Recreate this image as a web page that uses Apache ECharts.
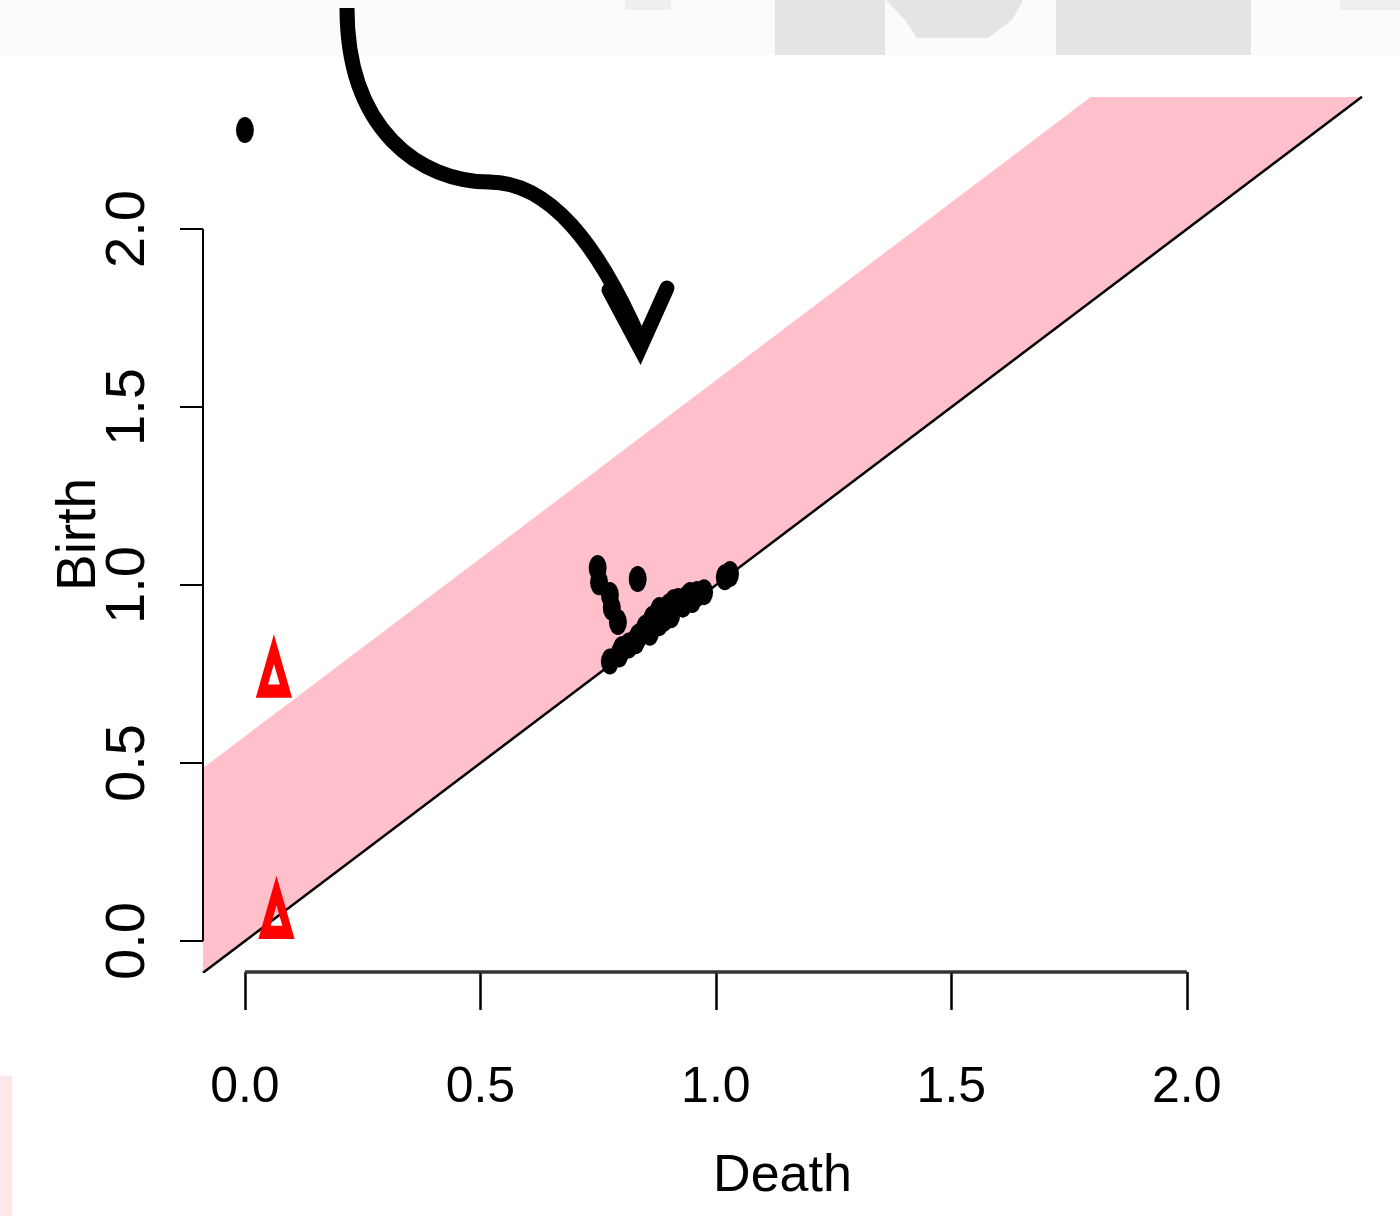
<!DOCTYPE html>
<html><head><meta charset="utf-8">
<script src="https://cdn.jsdelivr.net/npm/echarts@6/dist/echarts.min.js"></script>
<style>html,body{margin:0;padding:0;background:#fff}#c{width:1400px;height:1216px}</style>
</head><body><div id="c"></div>
<script>
// ---- data ----
const tickValues = [0, 0.5, 1, 1.5, 2];
const tickLabels = ['0.0', '0.5', '1.0', '1.5', '2.0'];
const xMin = -0.089, xMax = 2.372;   // Death axis range
const yMin = -0.087, yMax = 2.371;   // Birth axis range
const bandWidth = 0.575;             // confidence band above the diagonal
// dimension 0 (black dots): [death, birth]
const dim0Points = [
  [0.0, 2.278],
  [0.749, 1.048], [0.752, 1.008], [0.775, 0.972], [0.779, 0.936], [0.792, 0.896],
  [0.834, 1.017], [1.019, 1.022], [1.030, 1.031],
  [0.775, 0.785], [0.795, 0.805], [0.800, 0.820], [0.815, 0.830], [0.830, 0.842],
  [0.835, 0.855], [0.850, 0.880], [0.860, 0.866], [0.865, 0.905], [0.880, 0.893],
  [0.880, 0.930], [0.890, 0.905], [0.900, 0.940], [0.905, 0.915], [0.910, 0.952],
  [0.920, 0.955], [0.930, 0.945], [0.940, 0.965], [0.945, 0.972], [0.950, 0.958],
  [0.960, 0.975], [0.975, 0.980]
];
// dimension 1 (red triangles): [death, birth]
const dim1Points = [[0.0616, 0.761], [0.067, 0.083]];

const labelFor = v => { const i = tickValues.indexOf(v); return i >= 0 ? tickLabels[i] : v.toFixed(1); };
const narrow = "'Liberation Sans Narrow','Liberation Sans',Arial,sans-serif";
const sans = "'Liberation Sans',Arial,Helvetica,sans-serif";

const chart = echarts.init(document.getElementById('c'), null, {renderer: 'canvas'});
chart.setOption({
  animation: false,
  backgroundColor: '#fff',
  grid: {left: 203, right: 38, top: 97, bottom: 244, containLabel: false},
  xAxis: {
    type: 'value', min: xMin, max: xMax,
    splitLine: {show: false},
    axisLine: {show: false, onZero: false},
    axisTick: {show: true, inside: false, length: 38, customValues: tickValues,
      lineStyle: {color: '#000', width: 2.5}},
    axisLabel: {customValues: tickValues, formatter: labelFor, margin: 91,
      fontSize: 50, fontFamily: narrow, color: '#000'},
    name: 'Death', nameLocation: 'middle', nameGap: 179, nameMoveOverlap: false,
    nameTextStyle: {fontSize: 52, fontFamily: narrow, color: '#000'}
  },
  yAxis: {
    type: 'value', min: yMin, max: yMax,
    splitLine: {show: false},
    axisLine: {show: false, onZero: false},
    axisTick: {show: true, inside: false, length: 23, customValues: tickValues,
      lineStyle: {color: '#000', width: 2}},
    axisLabel: {customValues: tickValues, formatter: labelFor, rotate: 90, margin: 46,
      fontSize: 56, fontFamily: sans, color: '#000'},
    name: 'Birth', nameLocation: 'middle', nameGap: 96, nameRotate: 90, nameMoveOverlap: false,
    nameTextStyle: {fontSize: 55, fontFamily: sans, color: '#000'}
  },
  series: [
    { // pink band
      type: 'custom', silent: true, clip: true, z: 1,
      data: [0],
      renderItem: (params, api) => {
        const poly = [
          [xMin, xMin], [xMax, xMax], [yMax - bandWidth, yMax], [xMin, xMin + bandWidth]
        ].map(p => api.coord(p));
        return {type: 'polygon', shape: {points: poly}, style: {fill: '#FFC0CB'}};
      }
    },
    { // diagonal
      type: 'line', silent: true, z: 2, symbol: 'none', clip: true,
      data: [[xMin, xMin], [xMax, xMax]],
      lineStyle: {color: '#000', width: 2.5}
    },
    { // x axis line (spans tick range)
      type: 'line', silent: true, z: 2, symbol: 'none', clip: false,
      data: [[tickValues[0], yMin], [tickValues[tickValues.length - 1], yMin]],
      lineStyle: {color: '#333', width: 3.5}
    },
    { // y axis line
      type: 'line', silent: true, z: 2, symbol: 'none', clip: false,
      data: [[xMin, tickValues[0]], [xMin, tickValues[tickValues.length - 1]]],
      lineStyle: {color: '#000', width: 2}
    },
    {
      name: 'dim 0', type: 'scatter', z: 5, clip: false,
      symbol: 'circle', symbolSize: [18, 26],
      itemStyle: {color: '#000', opacity: 1},
      data: dim0Points
    },
    {
      name: 'dim 1', type: 'scatter', z: 6, clip: false,
      symbol: 'triangle', symbolSize: [24, 42],
      itemStyle: {color: 'rgba(0,0,0,0)', borderColor: '#ff0000', borderWidth: 10, opacity: 1},
      data: dim1Points
    }
  ],
  graphic: [
    {type: 'rect', z: -10, shape: {x: 0, y: 0, width: 1400, height: 55}, style: {fill: '#fbfbfb'}},
    {type: 'rect', z: -9, shape: {x: 775, y: 0, width: 110, height: 55}, style: {fill: '#e4e4e4'}},
    {type: 'polygon', z: -9, shape: {points: [[886, 0], [1023, 0], [1012, 20], [988, 38], [917, 38], [905, 20]]}, style: {fill: '#e4e4e4'}},
    {type: 'rect', z: -9, shape: {x: 1056, y: 0, width: 195, height: 55}, style: {fill: '#e4e4e4'}},
    {type: 'rect', z: -9, shape: {x: 625, y: 0, width: 46, height: 10}, style: {fill: '#efefef'}},
    {type: 'rect', z: -9, shape: {x: 1340, y: 0, width: 60, height: 10}, style: {fill: '#efefef'}},
    {type: 'rect', z: -9, shape: {x: 0, y: 1076, width: 12, height: 140},
      style: {fill: '#fde5e7', opacity: 0.9}},
    {type: 'bezierCurve', z: 100,
      shape: {x1: 347, y1: 8, cpx1: 347, cpy1: 130, cpx2: 420, cpy2: 182, x2: 490, y2: 182},
      style: {stroke: '#000', lineWidth: 15, fill: null, lineCap: 'butt'}},
    {type: 'bezierCurve', z: 100,
      shape: {x1: 489, y1: 182, cpx1: 550, cpy1: 182, cpx2: 598, cpy2: 245, x2: 639, y2: 338},
      style: {stroke: '#000', lineWidth: 15, fill: null, lineCap: 'butt'}},
    {type: 'polyline', z: 100, shape: {points: [[609, 290], [640, 348], [667, 288]]},
      style: {stroke: '#000', lineWidth: 15, fill: null, lineCap: 'round', lineJoin: 'miter'}}
  ]
});
</script>
</body></html>
